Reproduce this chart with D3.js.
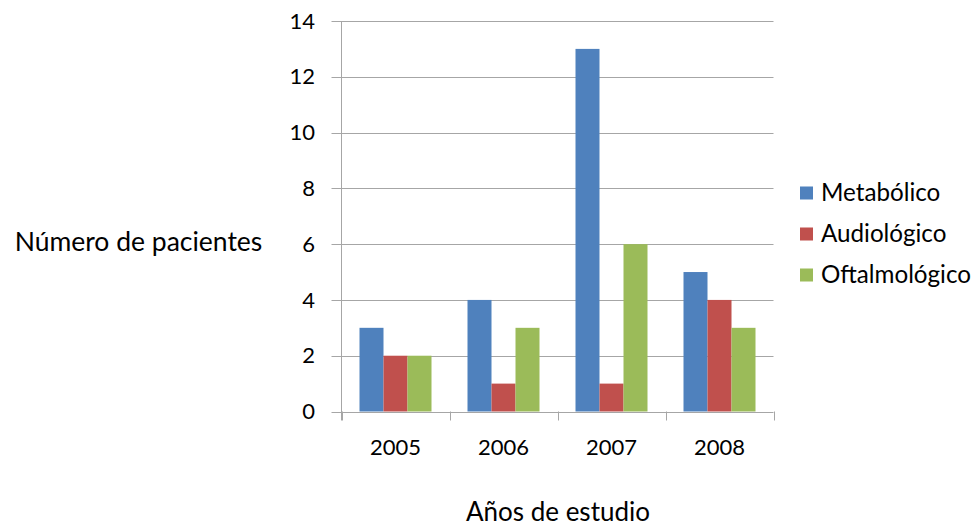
<!DOCTYPE html>
<html><head><meta charset="utf-8">
<script src="https://cdn.jsdelivr.net/npm/d3@7"></script>
<style>body{margin:0;background:#fff}svg{display:block}text{font-family:Lato,"Open Sans",sans-serif;fill:#000}</style>
</head><body><svg id="c" width="976" height="529"></svg>
<script>
const years = ["2005","2006","2007","2008"];
const seriesNames = ["Metabólico","Audiológico","Oftalmológico"];
const metabolico = [3,4,13,5];
const audiologico = [2,1,1,4];
const oftalmologico = [2,3,6,3];
const yTicks = [0,2,4,6,8,10,12,14];
const colors = ["#4F81BD","#C0504D","#9BBB59"];
const seriesValues = [metabolico, audiologico, oftalmologico];

const svg = d3.select("#c");
const pLeft = 341.5, pRight = 773.5, pTop = 21, pBottom = 411.5;
const x = d3.scaleBand().domain(years).range([pLeft, pRight]).paddingInner(1/3).paddingOuter(1/6);
const xs = d3.scaleBand().domain(seriesNames).range([0, x.bandwidth()]);
const y = d3.scaleLinear().domain([0,14]).range([pBottom, pTop]);

// gridlines
svg.append("g").selectAll("line").data(yTicks).join("line")
  .attr("x1", pLeft - 10).attr("x2", pRight)
  .attr("y1", d => Math.round(y(d)) + 0.5).attr("y2", d => Math.round(y(d)) + 0.5)
  .attr("stroke", "#A6A6A6").attr("stroke-width", 1);

// y axis line
svg.append("line").attr("x1", pLeft).attr("x2", pLeft).attr("y1", pTop).attr("y2", pBottom + 9)
  .attr("stroke", "#A6A6A6");
// x category ticks
const bounds = years.map(d => x(d) - x.step()*x.paddingInner()/2).concat([pRight]);
svg.append("g").selectAll("line").data(bounds).join("line")
  .attr("x1", d => Math.round(d)+0.5).attr("x2", d => Math.round(d)+0.5)
  .attr("y1", pBottom).attr("y2", pBottom + 9).attr("stroke", "#A6A6A6");

// bars
const g = svg.append("g");
years.forEach((yr, i) => {
  seriesNames.forEach((s, j) => {
    g.append("rect")
      .attr("x", x(yr) + xs(s)).attr("width", xs.bandwidth())
      .attr("y", y(seriesValues[j][i])).attr("height", pBottom - y(seriesValues[j][i]))
      .attr("fill", colors[j]);
  });
});

// y tick labels
svg.append("g").selectAll("text").data(yTicks).join("text")
  .attr("x", 315).attr("y", d => y(d)).attr("dy", "0.35em")
  .attr("text-anchor", "end").style("font-size", "22px").text(d => d);

// x labels
svg.append("g").selectAll("text").data(years).join("text")
  .attr("x", d => x(d) + x.bandwidth()/2).attr("y", 447).attr("dy", "0.35em")
  .attr("text-anchor", "middle").style("font-size", "22px").text(d => d);

// axis titles
svg.append("text").attr("x", 138.5).attr("y", 242).attr("dy", "0.35em")
  .attr("text-anchor", "middle").style("font-size", "26.5px").text("Número de pacientes");
svg.append("text").attr("x", 558).attr("y", 521)
  .attr("text-anchor", "middle").style("font-size", "26px").text("Años de estudio");

// legend
const leg = svg.append("g");
seriesNames.forEach((s, j) => {
  const cy = 193 + j*41;
  leg.append("rect").attr("x", 800).attr("y", cy - 6.5).attr("width", 13).attr("height", 13).attr("fill", colors[j]);
  leg.append("text").attr("x", 821).attr("y", cy).attr("dy", "0.35em").style("font-size", "24.2px").text(s);
});
</script></body></html>
